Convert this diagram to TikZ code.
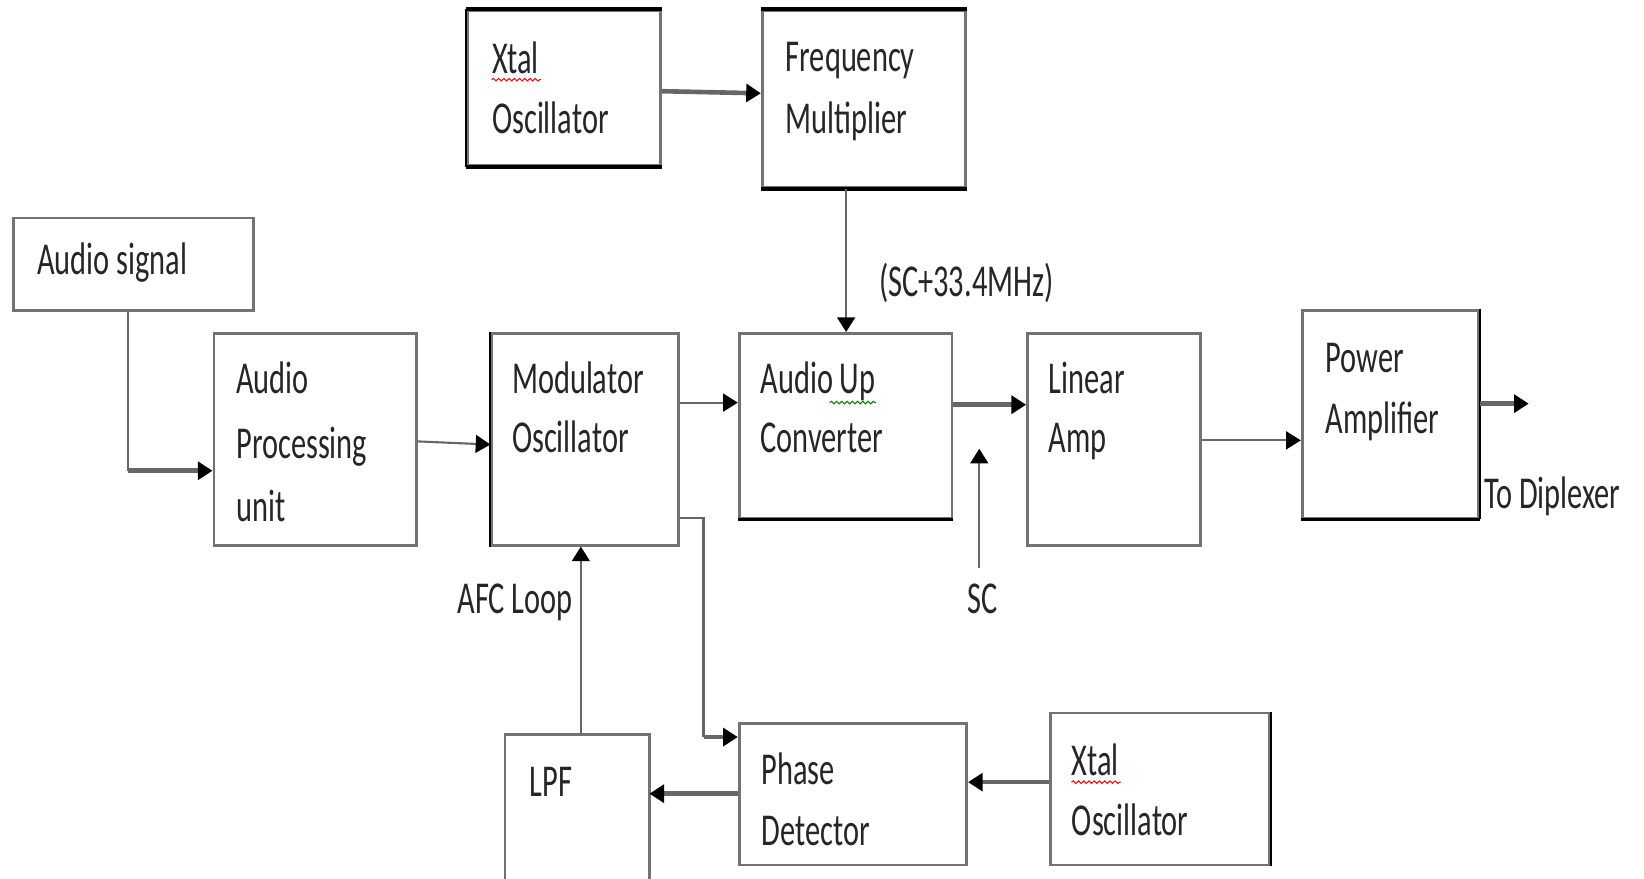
\documentclass[tikz,border=0pt]{standalone}
\usepackage{fontspec}
\setmainfont{Carlito}
\usetikzlibrary{arrows.meta,fit,decorations.pathmorphing}
\begin{document}
\begin{tikzpicture}[x=0.5pt,y=-0.5pt,
  blk/.style={draw=black!55, line width=1.3pt, inner sep=0pt, fill=none},
  txt/.style={anchor=base west, inner sep=0pt, yscale=1.5, text=black!85,
              font=\fontsize{14.5}{17}\selectfont},
  ln/.style={draw=black!60, line width=1pt},
  thk/.style={draw=black!60, line width=2.2pt},
  arr/.style={-{Triangle[length=7pt,width=8.5pt,color=black]}},
  edge/.style={draw=black, line width=1.6pt},
  thinedge/.style={draw=black, line width=1pt},
  squig/.style={decorate, decoration={snake, amplitude=0.6pt, segment length=2.5pt}, line width=0.5pt}]
\useasboundingbox (0,0) rectangle (1568,838);

% boxes
\node[blk, fit={(446,10) (630,158)}] (xt1) {};
\node[blk, fit={(727,10) (921,179)}] (fm) {};
\node[blk, fit={(13,208) (242,296)}] (as) {};
\node[blk, fit={(204,318) (397,520)}] (ap) {};
\node[blk, fit={(469,318) (647,520)}] (mo) {};
\node[blk, fit={(705,318) (908,494)}] (uc) {};
\node[blk, fit={(980,318) (1145,520)}] (la) {};
\node[blk, fit={(1242,296) (1410,494)}] (pa) {};
\node[inner sep=0pt, fit={(482,701) (619,838)}] (lpf) {};
\draw[draw=black!55, line width=1.3pt] (lpf.south west) -- (lpf.north west) -- (lpf.north east) -- (lpf.south east);
\node[blk, fit={(705,690) (922,825)}] (pd) {};
\node[blk, fit={(1002,680) (1211,825)}] (xt2) {};

% darker edges
\draw[edge] (xt1.north west) -- (xt1.north east);
\draw[edge] (xt1.south west) -- (xt1.south east);
\draw[thinedge] (xt1.south west) -- (xt1.north west);
\draw[edge] (fm.north west) -- (fm.north east);
\draw[edge] (fm.south west) -- (fm.south east);
\draw[edge] (uc.south west) -- (uc.south east);
\draw[edge] (pa.south west) -- (pa.south east);
\draw[thinedge] (pa.south east) -- (pa.north east);
\draw[thinedge] (xt2.south east) -- (xt2.north east);
\draw[thinedge] (mo.north west) -- (mo.south west);

% texts
\node[txt] (t1a) at (469,70) {Xtal};
\node[txt] (t1b) at (469,127) {Oscillator};
\node[txt] (t2a) at (749,68) {Frequency};
\node[txt] (t2b) at (749,127) {Multiplier};
\node[txt] (t3) at (35,262) {Audio signal};
\node[txt] (t4a) at (225,375) {Audio};
\node[txt] (t4b) at (225,437) {Processing};
\node[txt] (t4c) at (225,497) {unit};
\node[txt] (t5a) at (488,375) {Modulator};
\node[txt] (t5b) at (488,432) {Oscillator};
\node[txt] (t6a) at (725,375) {Audio Up};
\node[txt] (t6b) at (725,432) {Converter};
\node[txt] (t7a) at (1000,375) {Linear};
\node[txt] (t7b) at (1000,432) {Amp};
\node[txt] (t8a) at (1264,355) {Power};
\node[txt] (t8b) at (1264,413) {Amplifier};
\node[txt] (t9) at (505,760) {LPF};
\node[txt] (t10a) at (726,748) {Phase};
\node[txt] (t10b) at (726,806) {Detector};
\node[txt] (t11a) at (1022,740) {Xtal};
\node[txt] (t11b) at (1022,797) {Oscillator};
\node[txt] (l1) at (838,283) {(SC+33.4MHz)};
\node[txt] (l2) at (922,585) {SC};
\node[txt] (l3) at (436,585) {AFC Loop};
\node[txt] (l4) at (1415,485) {To Diplexer};

% spell-check squiggles
\draw[red, squig] (t1a.base west) ++(0,6) -- ++(47,0);
\draw[red, squig] (t11a.base west) ++(0,6) -- ++(47,0);
\draw[green!50!black, squig] (t6a.base east) ++(-44,9) -- ++(44,0);

% connectors
\draw[thk,arr] (xt1.east |- 0,87) -- (fm.west |- 0,89);
\draw[ln,arr] (807,0 |- fm.south) -- (807,0 |- uc.north);
\draw[ln] (122,0 |- as.south) -- (122,449);
\draw[thk,arr] (122,449) -- (ap.west |- 0,449);
\draw[ln,arr] (ap.east |- 0,421) -- (mo.west |- 0,424);
\draw[ln,arr] (mo.east |- 0,384) -- (uc.west |- 0,384);
\draw[thk,arr] (uc.east |- 0,386) -- (la.west |- 0,386);
\coordinate (scB) at (934,542);
\coordinate (scT) at (934,428);
\draw[ln,arr] (scB) -- (scT);
\draw[ln,arr] (la.east |- 0,420) -- (pa.west |- 0,420);
\coordinate (out) at (1458,385);
\draw[thk,arr] (pa.east |- out) -- (out);
\draw[ln] (mo.east |- 0,494) -- (671,494) -- (671,703);
\draw[thk,arr] (671,703) -- (pd.west |- 0,703);
\draw[thk,arr] (pd.west |- 0,757) -- (lpf.east |- 0,757);
\draw[thk,arr] (xt2.west |- 0,746) -- (pd.east |- 0,746);
\draw[ln,arr] (554,0 |- lpf.north) -- (554,0 |- mo.south);
\end{tikzpicture}
\end{document}
